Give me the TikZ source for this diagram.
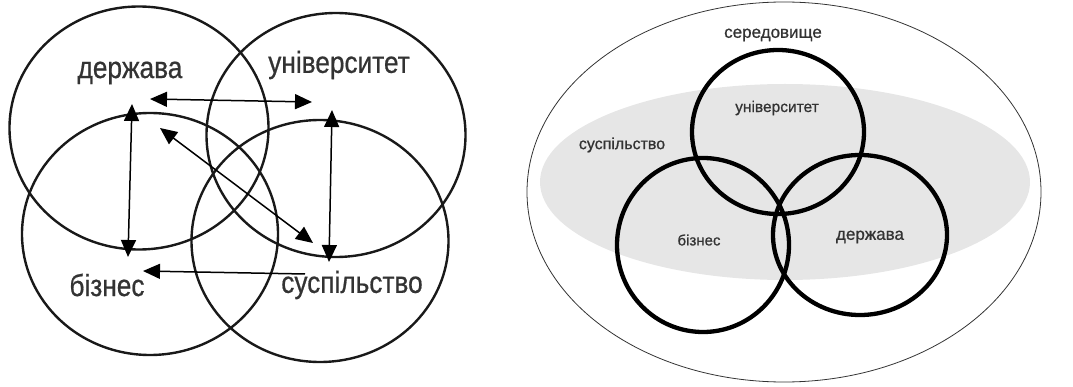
\documentclass[tikz,border=0pt]{standalone}
\usepackage{fontspec}
\setmainfont{Liberation Sans}
\newfontfamily\narrowsans[FakeStretch=0.86, FakeBold=0.6]{Liberation Sans}
\newfontfamily\plainsans[FakeBold=0.8]{Liberation Sans}
\usetikzlibrary{shapes.geometric, arrows.meta}

\definecolor{inkgray}{HTML}{333333}
\definecolor{mistgray}{HTML}{E6E6E6}

\begin{document}
\begin{tikzpicture}[x=1pt, y=-1pt,
    ring/.style={ellipse, draw=black!90, line width=2.4pt, inner sep=0pt},
    boldring/.style={ellipse, draw=black, line width=4.3pt, inner sep=0pt},
    biglabel/.style={text=inkgray, font=\narrowsans\fontsize{30.5}{31}\selectfont},
    smalllabel/.style={text=inkgray, font=\plainsans\fontsize{17}{18}\selectfont},
    link/.style={line width=1.5pt, {Triangle[length=17pt, width=15pt]}-{Triangle[length=17pt, width=15pt]}},
    oneway/.style={line width=1.5pt, -{Triangle[length=17pt, width=15pt]}}]
    \useasboundingbox (0,0) rectangle (1073,387);

    % Left: four circles
    \node[ring, minimum width=259pt, minimum height=243pt] (gov) at (139,128) {};
    \node[ring, minimum width=259pt, minimum height=244pt] (uni) at (336,135) {};
    \node[ring, minimum width=256pt, minimum height=242pt] (biz) at (150,234) {};
    \node[ring, minimum width=257pt, minimum height=242pt] (soc) at (320,241) {};

    \node[biglabel] (govtext) at (130,73) {держава};
    \node[biglabel] (unitext) at (339,65) {університет};
    \node[biglabel] (biztext) at (107,285) {бізнес};
    \node[biglabel] (soctext) at (352,285) {суспільство};

    % arrow ends
    \coordinate (gov-e) at (150,99);
    \coordinate (uni-w) at (312,102);
    \coordinate (gov-s) at (132,104);
    \coordinate (biz-n) at (128,257);
    \coordinate (uni-s) at (332,110);
    \coordinate (soc-n) at (329,262);
    \coordinate (gov-se) at (160,128);
    \coordinate (soc-nw) at (313,243);
    \coordinate (soc-w) at (305,274);
    \coordinate (biz-e) at (143,271);

    \draw[link] (gov-e) -- (uni-w);
    \draw[link] (gov-s) -- (biz-n);
    \draw[link] (uni-s) -- (soc-n);
    \draw[link] (gov-se) -- (soc-nw);
    \draw[oneway] (soc-w) -- (biz-e);

    % Right: environment, society and three circles
    \node[ellipse, draw=black!80, line width=0.8pt, minimum width=514pt, minimum height=380pt] (env) at (784,192) {};
    \node[ellipse, fill=mistgray, minimum width=490pt, minimum height=196pt] (society) at (785,182) {};

    \node[boldring, minimum width=172pt, minimum height=164pt] (uni2) at (778,132) {};
    \node[boldring, minimum width=172pt, minimum height=174pt] (biz2) at (703,245) {};
    \node[boldring, minimum width=174pt, minimum height=160pt] (gov2) at (860,235) {};

    \node[smalllabel] (envtext) at (773,35) {середовище};
    \node[smalllabel, font=\plainsans\fontsize{16}{17}\selectfont] (socitext) at (622,145) {суспільство};
    \node[smalllabel, font=\plainsans\fontsize{15.5}{17}\selectfont] (uni2text) at (777,108) {університет};
    \node[smalllabel, font=\plainsans\fontsize{15}{17}\selectfont] (biz2text) at (699,240) {бізнес};
    \node[smalllabel] (gov2text) at (870,237) {держава};
\end{tikzpicture}
\end{document}
